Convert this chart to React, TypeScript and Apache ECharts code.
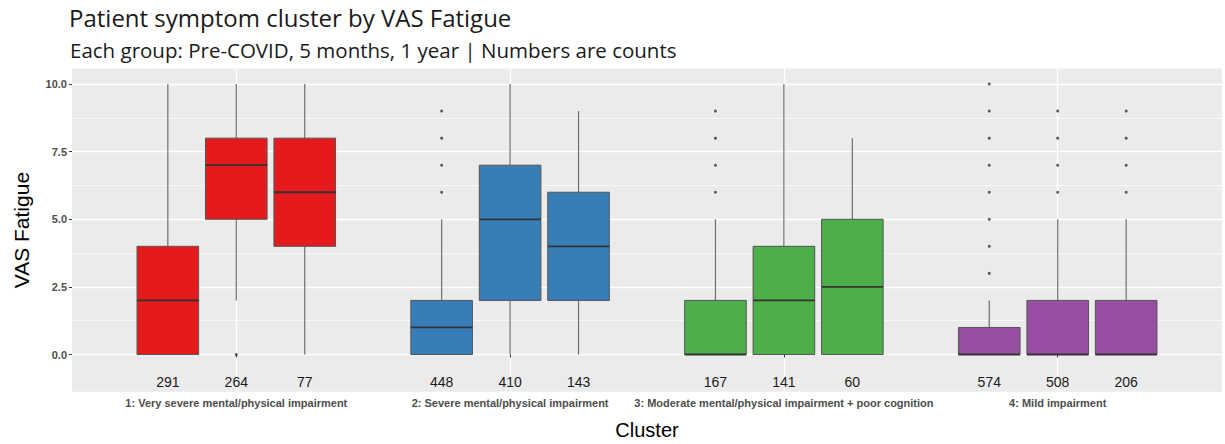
import React, { useEffect, useRef } from "react";
import * as echarts from "echarts";

// ---------- data ----------
const CLUSTERS = [
  "1: Very severe mental/physical impairment",
  "2: Severe mental/physical impairment",
  "3: Moderate mental/physical impairment + poor cognition",
  "4: Mild impairment",
];
const TIMEPOINTS = ["Pre-COVID", "5 months", "1 year"];
const CLUSTER_COLORS = ["#E41A1C", "#377EB8", "#4DAF4A", "#984EA3"];

// per cluster: [Pre-COVID, 5 months, 1 year]
const WHISKER_LOW = [
  [0, 2, 0],
  [0, 0, 0],
  [0, 0, 0],
  [0, 0, 0],
];
const Q1 = [
  [0, 5, 4],
  [0, 2, 2],
  [0, 0, 0],
  [0, 0, 0],
];
const MEDIAN = [
  [2, 7, 6],
  [1, 5, 4],
  [0, 2, 2.5],
  [0, 0, 0],
];
const Q3 = [
  [4, 8, 8],
  [2, 7, 6],
  [2, 4, 5],
  [1, 2, 2],
];
const WHISKER_HIGH = [
  [10, 10, 10],
  [5, 10, 9],
  [5, 10, 8],
  [2, 5, 5],
];
const OUTLIERS = [
  [[], [0], []],
  [[6, 7, 8, 9], [], []],
  [[6, 7, 8, 9], [], []],
  [[3, 4, 5, 6, 7, 8, 9, 10], [6, 7, 8, 9], [6, 7, 8, 9]],
];
const COUNTS = [
  [291, 264, 77],
  [448, 410, 143],
  [167, 141, 60],
  [574, 508, 206],
];
const COUNT_Y = -1;
const Y_TICKS = [0, 2.5, 5, 7.5, 10];
const Y_MINOR = [1.25, 3.75, 6.25, 8.75];
const X_TICKS = [1, 2, 3, 4];

// ---------- layout constants ----------
const DODGE = 0.25;
const BOX_W = 0.225;
const FONT = "'Liberation Sans', Arial, sans-serif";
const TITLE_FONT = "'Open Sans', 'Noto Sans', sans-serif";

const offsetOf = (t: number) => (t - 1) * DODGE;

const boxData: number[][] = [];
const outlierData: number[][] = [];
const countData: number[][] = [];
CLUSTERS.forEach((_, c) => {
  TIMEPOINTS.forEach((__, t) => {
    boxData.push([
      c + 1,
      t,
      WHISKER_LOW[c][t],
      Q1[c][t],
      MEDIAN[c][t],
      Q3[c][t],
      WHISKER_HIGH[c][t],
    ]);
    OUTLIERS[c][t].forEach((v) => outlierData.push([c + 1 + offsetOf(t), v]));
    countData.push([c + 1, t, COUNT_Y, COUNTS[c][t]]);
  });
});

function renderBox(params: any, api: any) {
  const c = api.value(0);
  const t = api.value(1);
  const lo = api.value(2);
  const q1 = api.value(3);
  const med = api.value(4);
  const q3 = api.value(5);
  const hi = api.value(6);
  const xc = c + offsetOf(t);
  const [cx, pHi] = api.coord([xc, hi]);
  const [, pLo] = api.coord([xc, lo]);
  const [left, pQ3] = api.coord([xc - BOX_W / 2, q3]);
  const [right, pQ1] = api.coord([xc + BOX_W / 2, q1]);
  const [, pMed] = api.coord([xc, med]);
  const color = CLUSTER_COLORS[c - 1];
  const wStyle = { stroke: "#6e6e6e", lineWidth: 1.2 };
  return {
    type: "group",
    children: [
      { type: "line", shape: { x1: cx, y1: pHi, x2: cx, y2: pQ3 }, style: wStyle },
      { type: "line", shape: { x1: cx, y1: pQ1, x2: cx, y2: pLo }, style: wStyle },
      {
        type: "rect",
        shape: { x: left, y: pQ3, width: right - left, height: pQ1 - pQ3 },
        style: { fill: color, stroke: "#555555", lineWidth: 1 },
      },
      {
        type: "line",
        shape: { x1: left, y1: pMed, x2: right, y2: pMed },
        style: { stroke: "#333333", lineWidth: 1.8 },
      },
    ],
  };
}

function renderCount(params: any, api: any) {
  const c = api.value(0);
  const t = api.value(1);
  const y = api.value(2);
  const n = api.value(3);
  const [x, py] = api.coord([c + offsetOf(t), y]);
  return {
    type: "text",
    x,
    y: py,
    style: {
      text: String(n),
      textAlign: "center",
      textVerticalAlign: "middle",
      fontSize: 14,
      fontFamily: FONT,
      fill: "#1a1a1a",
    },
  };
}

const gridLines = [
  ...Y_TICKS.map((v) => ({ yAxis: v, lineStyle: { width: 1.3 } })),
  ...Y_MINOR.map((v) => ({ yAxis: v, lineStyle: { width: 0.6 } })),
  ...X_TICKS.map((v) => ({ xAxis: v, lineStyle: { width: 1.3 } })),
];

const option: any = {
  animation: false,
  textStyle: { fontFamily: FONT },
  title: [
    {
      text: "Patient symptom cluster by VAS Fatigue",
      left: 69,
      top: 5,
      padding: 0,
      textStyle: { fontFamily: TITLE_FONT, fontSize: 24, fontWeight: "normal", color: "#1a1a1a" },
    },
    {
      text: "Each group: Pre-COVID, 5 months, 1 year | Numbers are counts",
      left: 70,
      top: 39,
      padding: 0,
      textStyle: { fontFamily: TITLE_FONT, fontSize: 20.5, fontWeight: "normal", color: "#1a1a1a" },
    },
  ],
  grid: {
    left: 72,
    right: 3,
    top: 68.5,
    bottom: 52.3,
    show: true,
    backgroundColor: "#EBEBEB",
    borderWidth: 0,
    containLabel: false,
    outerBoundsMode: "none",
  },
  xAxis: {
    type: "value",
    min: 0.4,
    max: 4.6,
    name: "Cluster",
    nameLocation: "middle",
    nameGap: 28,
    nameTextStyle: { fontSize: 20, color: "#000000", fontFamily: FONT },
    axisLine: { show: false },
    splitLine: { show: false },
    axisTick: {
      show: true,
      customValues: X_TICKS,
      length: 3,
      lineStyle: { color: "#333333", width: 1 },
    },
    axisLabel: {
      customValues: X_TICKS,
      formatter: (v: number) => CLUSTERS[Math.round(v) - 1] ?? "",
      fontSize: 11,
      fontWeight: "bold",
      color: "#4D4D4D",
      margin: 6,
      fontFamily: FONT,
    },
  },
  yAxis: {
    type: "value",
    min: -1.375,
    max: 10.575,
    name: "VAS Fatigue",
    nameLocation: "middle",
    nameGap: 40,
    nameTextStyle: { fontSize: 21, color: "#000000", fontFamily: FONT },
    axisLine: { show: false },
    splitLine: { show: false },
    axisTick: {
      show: true,
      customValues: Y_TICKS,
      length: 3,
      lineStyle: { color: "#333333", width: 1 },
    },
    axisLabel: {
      customValues: Y_TICKS,
      formatter: (v: number) => v.toFixed(1),
      fontSize: 11,
      fontWeight: "bold",
      color: "#4D4D4D",
      margin: 5,
      fontFamily: FONT,
    },
  },
  series: [
    {
      type: "line",
      name: "grid",
      z: 0,
      data: [],
      silent: true,
      markLine: {
        z: 0,
        silent: true,
        symbol: ["none", "none"],
        label: { show: false },
        emphasis: { disabled: true },
        lineStyle: { color: "#FFFFFF", type: "solid" },
        data: gridLines,
      },
    },
    {
      type: "custom",
      name: "boxes",
      z: 3,
      renderItem: renderBox,
      data: boxData,
      encode: { x: 0, y: [2, 3, 4, 5, 6] },
      silent: true,
    },
    {
      type: "scatter",
      name: "outliers",
      z: 4,
      data: outlierData,
      symbol: "circle",
      symbolSize: 3,
      itemStyle: { color: "#333333" },
      silent: true,
    },
    {
      type: "custom",
      name: "counts",
      z: 4,
      renderItem: renderCount,
      data: countData,
      encode: { x: 0, y: 2 },
      silent: true,
    },
  ],
};

export default function App() {
  const ref = useRef<HTMLDivElement>(null);
  useEffect(() => {
    if (!ref.current) return;
    const chart = echarts.init(ref.current, null, { renderer: "svg" });
    chart.setOption(option);
    return () => chart.dispose();
  }, []);
  return (
    <div
      ref={ref}
      style={{ position: "absolute", left: 0, top: 0, width: 1225, height: 444 }}
    />
  );
}
